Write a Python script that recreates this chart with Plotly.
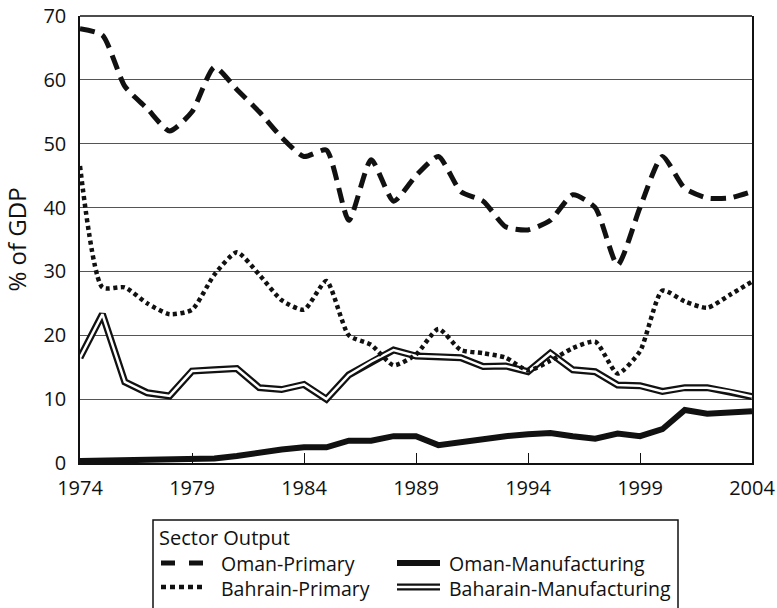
import plotly.graph_objects as go

# ── data (% of GDP) ──────────────────────────────────────────────────────────
years = [1974, 1975, 1976, 1977, 1978, 1979, 1980, 1981, 1982, 1983,
         1984, 1985, 1986, 1987, 1988, 1989, 1990, 1991, 1992, 1993,
         1994, 1995, 1996, 1997, 1998, 1999, 2000, 2001, 2002, 2003, 2004]

oman_primary = [68, 67, 59, 55.5, 52, 55, 62, 58.5, 55, 51,
                48, 49, 38, 47.5, 41, 45, 48, 42.5, 41, 37,
                36.5, 38, 42, 40, 31, 40, 48, 43, 41.5, 41.5, 42.5]

bahrain_primary = [46.5, 27.5, 27.5, 25, 23.3, 24, 29.5, 33, 29.5, 25.5,
                   24, 28.5, 20, 18.5, 15.3, 17, 21, 17.7, 17.2, 16.5,
                   14.5, 16, 18, 19, 14, 17.5, 27, 25.3, 24.3, 26.3, 28.4]

oman_mfg = [0.3, 0.35, 0.4, 0.45, 0.5, 0.6, 0.7, 1.1, 1.7, 2.1,
            2.45, 2.45, 3.5, 3.5, 4.2, 4.2, 2.8, 3.3, 3.9, 4.2,
            4.5, 4.7, 4.2, 3.8, 4.6, 4.2, 5.3, 8.3, 7.7, 7.9, 8.1]

bahrain_mfg = [16.5, 23.3, 12.7, 11, 10.5, 14.4, 14.6, 14.8, 11.8, 11.5,
               12.3, 10, 13.8, 15.9, 17.7, 16.75, 16.65, 16.5, 15.1, 15.2,
               14.3, 17.2, 14.6, 14.3, 12.2, 12.1, 11.2, 11.8, 11.8, 11.2, 10.4]

x_ticks = [1974, 1979, 1984, 1989, 1994, 1999, 2004]
y_ticks = [0, 10, 20, 30, 40, 50, 60, 70]

legend_title = "Sector Output"
legend_col1 = ["Oman-Primary", "Bahrain-Primary"]
legend_col2 = ["Oman-Manufacturing", "Baharain-Manufacturing"]

INK = "#111111"
GRID = "#555555"
FONT = "Open Sans, sans-serif"

W, H = 777, 608
L, R, T, B = 80, 25, 16, 145


def px(x):
    return (x - L) / (W - L - R)


def py(y):
    return (H - B - y) / (H - T - B)


fig = go.Figure()

# double line = wide black stroke with a thin white stroke on top
fig.add_trace(go.Scatter(x=years, y=bahrain_mfg, mode="lines", showlegend=False,
                         line=dict(color=INK, width=7)))
fig.add_trace(go.Scatter(x=years, y=bahrain_mfg, mode="lines", showlegend=False,
                         line=dict(color="white", width=2.5)))
fig.add_trace(go.Scatter(x=years, y=oman_mfg, mode="lines", showlegend=False,
                         line=dict(color=INK, width=6)))
fig.add_trace(go.Scatter(x=years, y=bahrain_primary, mode="lines", showlegend=False,
                         line=dict(color=INK, width=4.5, dash="4px,3.5px",
                                   shape="spline", smoothing=0.6)))
fig.add_trace(go.Scatter(x=years, y=oman_primary, mode="lines", showlegend=False,
                         line=dict(color=INK, width=5, dash="15px,8px",
                                   shape="spline", smoothing=0.6)))

# ── hand-drawn legend box ────────────────────────────────────────────────────
shapes = [
    dict(type="rect", xref="paper", yref="paper",
         x0=px(153), x1=px(678), y0=py(520), y1=py(612),
         line=dict(color=INK, width=1.5), fillcolor="white", layer="below"),
    dict(type="line", xref="paper", yref="paper", x0=px(161), x1=px(204),
         y0=py(563), y1=py(563), line=dict(color=INK, width=5, dash="14px,14px")),
    dict(type="line", xref="paper", yref="paper", x0=px(161), x1=px(206),
         y0=py(587), y1=py(587), line=dict(color=INK, width=4.5, dash="5px,4px")),
    dict(type="line", xref="paper", yref="paper", x0=px(397), x1=px(440),
         y0=py(563), y1=py(563), line=dict(color=INK, width=6)),
    dict(type="line", xref="paper", yref="paper", x0=px(397), x1=px(440),
         y0=py(587), y1=py(587), line=dict(color=INK, width=7)),
    dict(type="line", xref="paper", yref="paper", x0=px(397), x1=px(440),
         y0=py(587), y1=py(587), line=dict(color="white", width=2.5)),
    # top border of the plot frame
    dict(type="line", xref="paper", yref="paper", x0=0, x1=1, y0=1, y1=1,
         line=dict(color=INK, width=1.5)),
]

annotations = [
    dict(text=legend_title, x=px(157), y=py(537), font_size=20),
    dict(text="<br>".join(legend_col1), x=px(219), y=py(576), font_size=19.5),
    dict(text="<br>".join(legend_col2), x=px(447), y=py(576), font_size=19.5),
]
for a in annotations:
    a.update(xref="paper", yref="paper", xanchor="left", yanchor="middle",
             align="left", showarrow=False)
    a["font"] = dict(family=FONT, size=a.pop("font_size"), color=INK)

fig.update_layout(
    width=W, height=H,
    margin=dict(l=L, r=R, t=T, b=B, autoexpand=False),
    paper_bgcolor="white", plot_bgcolor="white",
    font=dict(family=FONT, size=20, color=INK),
    shapes=shapes, annotations=annotations,
    xaxis=dict(range=[1974, 2004], tickvals=x_ticks, ticks="inside", ticklen=10,
               tickcolor=INK, tickwidth=1, showgrid=False, zeroline=False,
               showline=True, linecolor=INK, linewidth=1.5, mirror=False,
               ticklabelstandoff=6, automargin=False),
    yaxis=dict(range=[0, 70], tickvals=y_ticks, showgrid=True, gridcolor=GRID,
               gridwidth=1, zeroline=False, showline=True, linecolor=INK,
               linewidth=1.5, mirror=True, ticks="", ticklabelstandoff=8,
               automargin=False,
               title=dict(text="% of GDP", standoff=14)),
)

# the page's default body margin would shift the figure by 8px
fig.write_html("out.html", config={"displayModeBar": False},
               post_script="document.body.style.margin='0';")
